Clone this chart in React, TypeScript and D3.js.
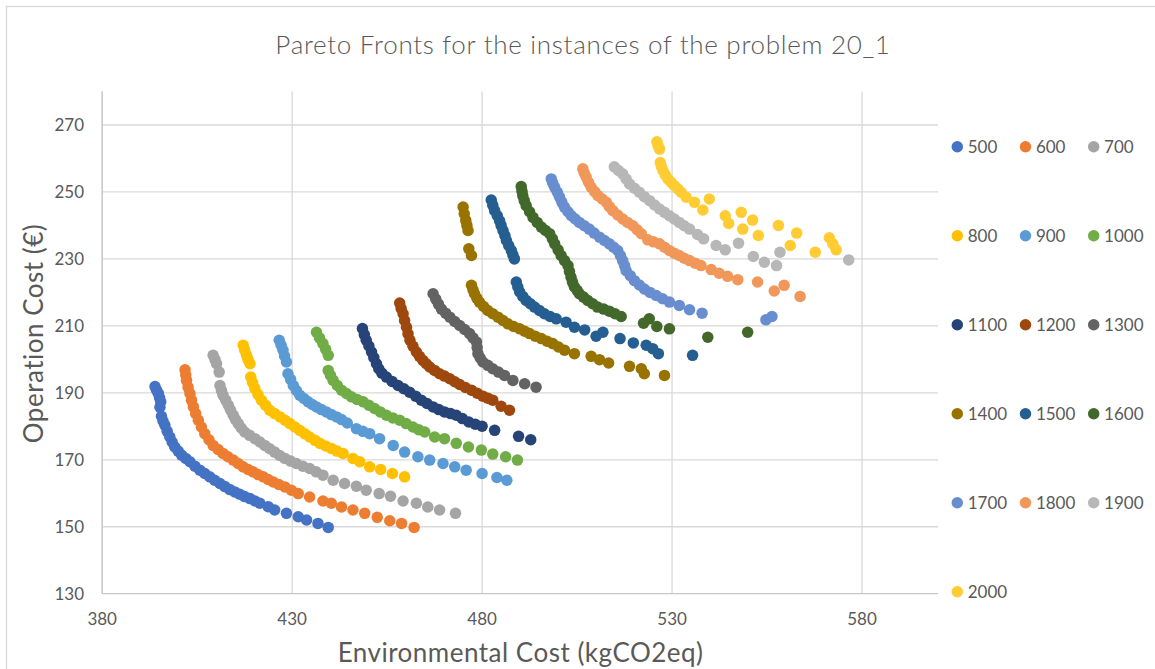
import React from "react";
import * as d3 from "d3";

type P = [number, number];

const seriesNames = ["500", "600", "700", "800", "900", "1000", "1100", "1200", "1300", "1400", "1500", "1600", "1700", "1800", "1900", "2000"];
const seriesColors = ["#4472C4", "#ED7D31", "#A5A5A5", "#FFC000", "#5B9BD5", "#70AD47", "#264478", "#9E480E", "#636363", "#997300", "#255E91", "#43682B", "#698ED0", "#F1975A", "#B7B7B7", "#FFCD33"];

const s500: P[] = [[393.9,191.9],[394.3,190.8],[394.8,189.8],[395.1,188.5],[395.4,187.3],[395.2,185.7],[395.6,183],[396,181.6],[396.5,180.3],[397.1,178.5],[397.8,176.8],[398.4,175.3],[399.1,173.8],[400,172.6],[400.9,171.4],[402,170.4],[403.1,169.4],[404.4,168.1],[405.7,166.9],[407,165.9],[408.3,164.9],[409.6,163.9],[411,162.9],[412.3,162],[413.6,161.1],[414.9,160.4],[416.2,159.7],[417.5,159],[418.9,158.4],[420.2,157.7],[421.5,157],[423.7,156],[425.4,155],[428.5,154],[431.6,153],[433.8,152],[436.8,151],[439.5,149.8]];
const s600: P[] = [[401.8,196.9],[402,195.3],[402.2,193.7],[402.6,191.7],[403.1,189.8],[403.5,187.8],[404,185.8],[404.6,183.8],[405.3,181.8],[406.1,179.8],[407,177.8],[408.1,176],[409.2,174.3],[410.5,173.1],[411.8,171.9],[413.1,170.9],[414.5,169.9],[415.8,168.9],[417.1,167.9],[418.4,167.1],[419.7,166.4],[421,165.6],[422.4,164.9],[423.7,164.1],[425,163.4],[426.5,162.6],[428.1,161.9],[429.8,160.9],[431.6,159.9],[434.6,158.9],[438.1,157.7],[440.3,157],[443,155.9],[446,155],[449.1,154],[452.4,152.8],[455.7,151.8],[458.8,151],[462.1,149.8]];
const s700: P[] = [[409.2,201.2],[409.7,199.9],[410.1,198.7],[410.8,196.2],[411,192.2],[411.4,190.7],[411.8,189.3],[412.5,187.8],[413.2,186.3],[413.8,184.8],[414.5,183.3],[415.1,182],[415.8,180.8],[416.6,179.5],[417.5,178.3],[418.8,177.3],[420.2,176.3],[421.5,175.3],[422.8,174.3],[424.1,173.3],[425.4,172.3],[426.7,171.3],[428.1,170.4],[429.6,169.6],[431.1,168.9],[432.8,168.1],[434.6,167.4],[436.3,166.4],[438.1,165.4],[440.8,163.9],[443.8,162.9],[446.9,162.1],[449.5,160.9],[452.9,159.9],[455.9,159.1],[459.2,157.7],[462.7,157],[465.7,155.9],[468.8,155],[473,154]];
const s800: P[] = [[417.1,204.2],[417.5,202.7],[418,201.2],[418.4,199.9],[418.9,198.7],[419.1,194.7],[419.6,193],[420.2,191.3],[421,189.5],[421.9,187.8],[423,186.3],[424.1,184.8],[425.4,183.8],[426.8,182.8],[428.1,181.8],[429.4,180.8],[430.7,179.8],[432,178.8],[433.3,177.8],[434.6,176.8],[436,175.8],[437.3,174.9],[438.8,174.1],[440.3,173.4],[441.8,172.6],[443.4,171.9],[446,170.4],[447.8,169.4],[450.4,167.9],[453.3,167.1],[456.4,165.9],[459.6,164.9]];
const s900: P[] = [[426.6,205.7],[427.1,204.2],[427.6,202.7],[428,201],[428.5,199.2],[428.9,195.7],[429.6,194],[430.3,192.2],[431.1,190.7],[432,189.3],[433.1,188.3],[434.2,187.3],[435.3,186.5],[436.4,185.8],[437.7,185],[439,184.3],[440.3,183.5],[441.7,182.8],[443,182],[444.5,181],[446.9,179.3],[448.6,178.5],[450.4,177.8],[453,176.3],[456.6,174.3],[459.6,172.3],[463.1,170.9],[466.2,169.9],[469.7,168.9],[472.8,167.9],[475.8,166.9],[480,165.9],[483.9,164.7],[486.5,163.9]];
const s1000: P[] = [[436.4,208.1],[437.2,206.4],[438.1,204.7],[438.8,203],[439.5,201.2],[439.5,196.7],[440.1,195.2],[440.8,193.7],[441.9,192.2],[443,190.8],[444.3,189.8],[445.6,188.8],[447.1,188],[448.7,187.3],[450.2,186.3],[451.7,185.3],[453.2,184.3],[454.8,183.3],[456.5,182.5],[458.3,181.8],[460,180.8],[461.8,179.8],[463.3,179],[464.9,178.3],[467.5,176.8],[470.1,176.3],[473.2,174.9],[476.4,173.8],[479.8,172.9],[482.8,171.7],[486.2,170.9],[489.3,169.9]];
const s1100: P[] = [[448.5,209.2],[449,207.4],[449.5,205.7],[450.2,204],[450.9,202.2],[451.5,200.5],[452.2,198.7],[452.8,197.2],[453.6,195.9],[454.8,194.7],[456.3,193.4],[457.9,192.2],[459.4,191.2],[460.9,190.2],[462.5,189],[464,187.8],[465.5,186.8],[467.1,185.8],[468.6,185],[470.1,184.3],[471.7,183.8],[473.2,183.3],[474.8,182.3],[476.5,181.3],[478.2,180.6],[480,180],[483.3,178.8],[489.6,177],[492.8,176]];
const s1200: P[] = [[458.3,216.8],[458.7,215.2],[459.2,213.6],[459.6,211.6],[460.1,209.6],[460.5,207.6],[461,205.7],[461.8,203.9],[462.7,202.2],[463.5,200.9],[464.4,199.7],[465.3,198.7],[466.2,197.7],[467.5,196.7],[468.8,195.7],[470.1,195],[471.5,194.2],[472.8,193.3],[474.1,192.5],[475.6,191.6],[477.2,190.8],[478.7,189.9],[480.2,189],[481.5,188.4],[482.8,187.8],[485,186],[487.2,184.8]];
const s1300: P[] = [[467.1,219.6],[467.8,218],[468.5,216.5],[469.3,215],[470.4,213.8],[471.5,212.6],[472.8,211.3],[474.1,210.1],[475.4,208.9],[476.7,207.7],[477.6,206.4],[478.5,205.2],[478.7,203.5],[478.9,201.7],[479.5,200.4],[480.2,199.2],[481.5,198.2],[482.8,197.2],[484.3,196.2],[485.9,195.2],[488.1,193.7],[491.2,192.7],[494.2,191.7]];
const s1400: P[] = [[475,245.5],[475.3,243.5],[475.7,241.5],[476,240],[476.3,238.5],[476.5,233],[477.2,231],[477.2,222.1],[477.6,220.8],[478,219.6],[478.6,218.3],[479.3,217.1],[480.4,215.8],[481.5,214.6],[482.8,213.6],[484.2,212.6],[485.5,211.6],[486.8,210.6],[488.3,209.8],[489.9,209.1],[491.2,208.4],[492.5,207.7],[494,206.9],[495.6,206.2],[497.1,205.4],[498.6,204.7],[500.1,203.7],[501.7,202.7],[504.3,201.7],[508.7,200.9],[510.9,199.9],[513.3,198.9],[518.8,197.9],[521.9,197.2],[522.7,195.7],[528,195.2]];
const s1500: P[] = [[482.4,247.6],[482.8,246],[483.3,244.4],[484,242.9],[484.6,241.4],[485,240],[485.5,238.5],[486,237],[486.4,235.5],[487,234],[487.7,232.5],[488.1,231.2],[488.5,230],[489,223.1],[489.4,221.6],[489.9,220.1],[490.7,218.8],[491.6,217.6],[492.7,216.6],[493.8,215.6],[495.1,214.6],[496.4,213.6],[497.9,212.8],[499.5,212.1],[502.1,211.1],[504.3,209.6],[507,208.8],[510,206.9],[511.8,208.1],[516.3,206.2],[519.8,204.9],[523.2,204.2],[524.9,203.2],[526.4,201.7],[535.4,201.2]];
const s1600: P[] = [[490.3,251.6],[490.5,250.2],[490.7,248.9],[491.1,247.4],[491.6,245.9],[492.5,244.1],[493.4,242.4],[494.5,240.9],[495.6,239.5],[496.7,238.5],[497.8,237.5],[498.5,236],[499.1,234.5],[500,232.7],[500.8,231],[501.7,229.5],[502.6,228],[503,226.2],[503.4,224.5],[503.8,223],[504.3,221.6],[505,220.6],[505.6,219.6],[506.7,218.6],[507.8,217.6],[509.1,216.6],[510.4,215.6],[512,215],[513.5,214.4],[515,213.6],[516.6,212.8],[522.5,210.8],[524,212.1],[526,209.8],[529.3,209.1],[539.4,206.6],[549.9,208.1]];
const s1700: P[] = [[498.2,253.9],[498.6,252.6],[499.1,251.4],[499.8,249.9],[500.4,248.4],[501,246.9],[501.7,245.4],[502.6,244.1],[503.5,242.9],[504.5,241.9],[505.6,240.9],[506.9,239.9],[508.2,238.9],[509.5,237.7],[510.9,236.5],[512.2,235.5],[513.5,234.5],[514.6,233.5],[515.7,232.5],[516.4,231],[517,229.5],[517.5,228],[517.9,226.5],[519,225],[520.1,223.5],[521.4,222.2],[522.7,221],[524.2,220],[525.8,219.1],[527.5,218.1],[529.3,217.1],[531.9,216.1],[534.6,214.8],[537.9,213.8],[554.7,211.8],[556.3,212.8]];
const s1800: P[] = [[506.5,256.9],[506.9,255.6],[507.4,254.4],[508,252.9],[508.7,251.4],[509.6,250.1],[510.5,248.9],[511.6,247.9],[512.7,246.9],[513.5,245.6],[514.4,244.4],[515.7,243.1],[517,241.9],[518.3,240.9],[519.7,239.9],[520.8,238.7],[521.9,237.5],[523.6,235.7],[525.1,235.1],[526.7,234.5],[528,233.5],[529.3,232.5],[530.6,231.7],[531.9,231],[533.2,230.2],[534.6,229.5],[536.1,228.7],[537.6,228],[540.3,226.8],[542.4,225.7],[544.6,224.8],[547.3,223.8],[552.5,223.1],[556.9,220.4],[559.5,222.1],[563.7,218.8]];
const s1900: P[] = [[514.8,257.5],[515.9,256.4],[517,255.4],[517.9,253.9],[518.8,252.4],[520.1,251.1],[521.4,249.9],[522.7,248.6],[524.1,247.4],[525.4,246.1],[526.7,244.9],[528,243.9],[529.3,242.9],[530.6,241.9],[531.9,240.9],[533.2,239.9],[534.6,238.9],[536.7,237.3],[538.3,236],[541.6,234],[544,232.7],[547.5,234.7],[551.4,230.7],[554.3,229],[557.5,228],[558.4,232],[576.5,229.7]];
const s2000: P[] = [[526,265],[526.3,263.9],[526.7,262.8],[526.9,258.8],[527.2,257.6],[527.6,256.4],[528.2,255.1],[528.9,253.9],[529.7,252.9],[530.6,251.9],[531.5,250.9],[532.4,249.9],[533.7,248.4],[535.9,246.9],[538.1,244.6],[539.8,247.9],[544,242.9],[544.9,240.6],[548.2,243.9],[548.6,238.9],[551.2,241.6],[552.7,237],[558,240],[561.1,234],[562.8,237.7],[567.7,232],[571.4,236.3],[572.3,234.5],[573.2,232.7]];

const seriesData: P[][] = [s500, s600, s700, s800, s900, s1000, s1100, s1200, s1300, s1400, s1500, s1600, s1700, s1800, s1900, s2000];

const xTicks = [380, 430, 480, 530, 580];
const yTicks = [130, 150, 170, 190, 210, 230, 250, 270];
const xDomain: [number, number] = [380, 600];
const yDomain: [number, number] = [130, 280];

const titleText = "Pareto Fronts for the instances of the problem 20_1";
const xTitle = "Environmental Cost (kgCO2eq)";
const yTitle = "Operation Cost (€)";

export default function App() {
  const W = 1155, H = 669;
  const left = 102.2, right = 938, top = 91.5, bottom = 593.7;
  const x = d3.scaleLinear().domain(xDomain).range([left, right]);
  const y = d3.scaleLinear().domain(yDomain).range([bottom, top]);
  const font = "Lato, 'Open Sans', sans-serif";
  const txt = "#595959";
  const r = 5.75;

  return (
    <svg width={W} height={H} style={{ position: "fixed", left: 0, top: 0, background: "#fff" }} fontFamily={font}>
      <rect x={0} y={0} width={W} height={H} fill="#fff" />
      <rect x={6.5} y={6.5} width={1300} height={800} fill="#fff" stroke="#d9d9d9" strokeWidth={1.3} />
      <text x={583} y={54} textAnchor="middle" fontSize={26} fontWeight={300} letterSpacing={0.7} fill={txt}>{titleText}</text>
      {/* gridlines */}
      {yTicks.filter(t => t !== 130).map(t => (
        <line key={"gy" + t} x1={left} x2={right} y1={y(t)} y2={y(t)} stroke="#d9d9d9" strokeWidth={1.3} />
      ))}
      {xTicks.map(t => (
        <line key={"gx" + t} x1={x(t)} x2={x(t)} y1={top} y2={bottom} stroke="#d9d9d9" strokeWidth={1.3} />
      ))}
      <line x1={left} x2={left} y1={top} y2={bottom} stroke="#c8c8c8" strokeWidth={1.3} />
      <line x1={left} x2={right} y1={y(130)} y2={y(130)} stroke="#c8c8c8" strokeWidth={1.3} />
      {/* tick labels */}
      {yTicks.map(t => (
        <text key={"ly" + t} x={84} y={y(t) + 6} textAnchor="end" fontSize={17} fill={txt}>{t}</text>
      ))}
      {xTicks.map(t => (
        <text key={"lx" + t} x={x(t)} y={625} textAnchor="middle" fontSize={17} fill={txt}>{t}</text>
      ))}
      {/* axis titles */}
      <text x={520.5} y={662} textAnchor="middle" fontSize={26} letterSpacing={0.5} fill={txt}>{xTitle}</text>
      <text transform={`translate(43,333.5) rotate(-90)`} textAnchor="middle" fontSize={26} letterSpacing={0.5} fill={txt}>{yTitle}</text>
      {/* series */}
      {seriesData.map((pts, si) => (
        <g key={"s" + si} fill={seriesColors[si]}>
          {pts.map((p, i) => (
            <circle key={i} cx={x(p[0])} cy={y(p[1])} r={r} />
          ))}
        </g>
      ))}
      {/* legend */}
      {seriesNames.map((n, i) => {
        const cx = 957.3 + (i % 3) * 68.2;
        const cy = 146.7 + Math.floor(i / 3) * 89;
        return (
          <g key={"lg" + n}>
            <circle cx={cx} cy={cy} r={5.75} fill={seriesColors[i]} />
            <text x={cx + 10.4} y={cy + 6} fontSize={17} fill={txt}>{n}</text>
          </g>
        );
      })}
    </svg>
  );
}
